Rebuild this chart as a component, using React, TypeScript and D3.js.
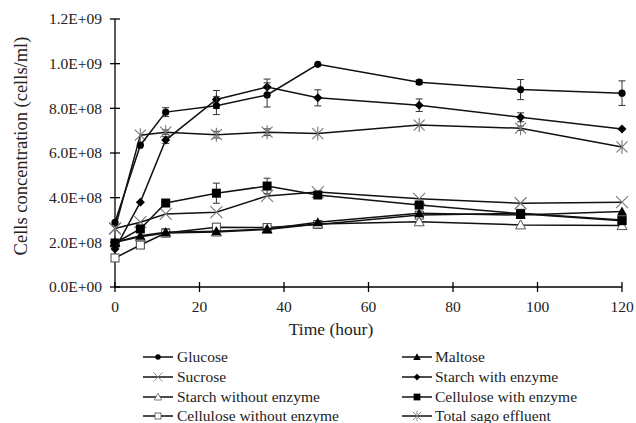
import React from "react";
import * as d3 from "d3";

const times = [0, 6, 12, 24, 36, 48, 72, 96, 120];
const glucose = [2.9e8, 6.35e8, 7.83e8, 8.12e8, 8.6e8, 9.97e8, 9.17e8, 8.84e8, 8.68e8];
const glucoseErr = [0, 0, 0.2e8, 0.4e8, 0.54e8, 0, 0.1e8, 0.45e8, 0.55e8];
const maltose = [2.0e8, 2.3e8, 2.45e8, 2.5e8, 2.6e8, 2.9e8, 3.3e8, 3.22e8, 3.38e8];
const maltoseErr = [0, 0, 0.15e8, 0, 0, 0, 0, 0, 0];
const sucrose = [2.62e8, 2.9e8, 3.27e8, 3.35e8, 4.08e8, 4.25e8, 3.95e8, 3.75e8, 3.8e8];
const sucroseErr = [0, 0, 0, 0, 0, 0, 0, 0, 0];
const starchEnzyme = [1.7e8, 3.8e8, 6.58e8, 8.4e8, 8.95e8, 8.47e8, 8.14e8, 7.6e8, 7.07e8];
const starchEnzymeErr = [0, 0, 0.15e8, 0.4e8, 0.36e8, 0.36e8, 0.28e8, 0.2e8, 0];
const starchNoEnzyme = [2.0e8, 2.25e8, 2.42e8, 2.46e8, 2.58e8, 2.82e8, 2.92e8, 2.78e8, 2.75e8];
const starchNoEnzymeErr = [0, 0, 0, 0, 0, 0, 0, 0, 0];
const celluloseEnzyme = [1.97e8, 2.6e8, 3.76e8, 4.2e8, 4.52e8, 4.12e8, 3.67e8, 3.28e8, 2.97e8];
const celluloseEnzymeErr = [0, 0, 0, 0.45e8, 0.35e8, 0, 0, 0, 0];
const celluloseNoEnzyme = [1.3e8, 1.88e8, 2.42e8, 2.68e8, 2.66e8, 2.8e8, 3.22e8, 3.3e8, 3.0e8];
const celluloseNoEnzymeErr = [0, 0, 0, 0, 0, 0, 0, 0, 0];
const sago = [2.62e8, 6.8e8, 6.93e8, 6.82e8, 6.93e8, 6.87e8, 7.25e8, 7.11e8, 6.27e8];
const sagoErr = [0, 0, 0.1e8, 0.15e8, 0.15e8, 0, 0, 0.1e8, 0];

const seriesNames = [
  "Glucose",
  "Maltose",
  "Sucrose",
  "Starch with enzyme",
  "Starch without enzyme",
  "Cellulose with enzyme",
  "Cellulose without enzyme",
  "Total sago effluent",
];
const seriesMarkers = ["circle", "triUp", "x", "diamond", "triOpen", "square", "squareOpen", "star"];

const xTicks = [0, 20, 40, 60, 80, 100, 120];
const yTicks = [0, 2e8, 4e8, 6e8, 8e8, 1.0e9, 1.2e9];
const yTickLabels = ["0.0E+00", "2.0E+08", "4.0E+08", "6.0E+08", "8.0E+08", "1.0E+09", "1.2E+09"];

const FONT = "'Liberation Serif', 'Times New Roman', serif";

function Marker({ type, x, y }: { type: string; x: number; y: number }) {
  switch (type) {
    case "circle":
      return <circle cx={x} cy={y} r={3.6} fill="#000" />;
    case "triUp":
      return <path d={`M${x},${y - 5}L${x + 5},${y + 4}L${x - 5},${y + 4}Z`} fill="#000" />;
    case "triOpen":
      return (
        <path d={`M${x},${y - 5}L${x + 5},${y + 4}L${x - 5},${y + 4}Z`} fill="#fff" stroke="#555" strokeWidth={1} />
      );
    case "x":
      return (
        <path d={`M${x - 6},${y - 6}L${x + 6},${y + 6}M${x - 6},${y + 6}L${x + 6},${y - 6}`} stroke="#777" strokeWidth={1.1} fill="none" />
      );
    case "diamond":
      return <path d={`M${x},${y - 4.5}L${x + 4.5},${y}L${x},${y + 4.5}L${x - 4.5},${y}Z`} fill="#000" />;
    case "square":
      return <rect x={x - 4.5} y={y - 4.5} width={9} height={9} fill="#000" />;
    case "squareOpen":
      return <rect x={x - 4} y={y - 4} width={8} height={8} fill="#fff" stroke="#444" strokeWidth={1} />;
    case "star":
      return (
        <path
          d={`M${x - 5.5},${y - 5.5}L${x + 5.5},${y + 5.5}M${x - 5.5},${y + 5.5}L${x + 5.5},${y - 5.5}M${x},${y - 7}L${x},${y + 7}`}
          stroke="#777"
          strokeWidth={1.1}
          fill="none"
        />
      );
    default:
      return null;
  }
}

export default function App() {
  const W = 636;
  const H = 423;
  const x = d3.scaleLinear().domain([0, 120]).range([115, 622]);
  const y = d3.scaleLinear().domain([0, 1.2e9]).range([287, 19]);

  const allValues = [glucose, maltose, sucrose, starchEnzyme, starchNoEnzyme, celluloseEnzyme, celluloseNoEnzyme, sago];
  const allErrs = [glucoseErr, maltoseErr, sucroseErr, starchEnzymeErr, starchNoEnzymeErr, celluloseEnzymeErr, celluloseNoEnzymeErr, sagoErr];

  const line = d3
    .line<number>()
    .x((_, i) => x(times[i]))
    .y((d) => y(d));

  const order = [6, 4, 1, 2, 5, 7, 3, 0];

  const legendRows = [357, 377, 397, 416];
  const legendCols = [
    { lx1: 143, lx2: 173, tx: 177 },
    { lx1: 402, lx2: 432, tx: 435 },
  ];

  return (
    <svg width={W} height={H} style={{ position: "absolute", left: 0, top: 0, background: "#fff" }}>
      <rect width={W} height={H} fill="#fff" />
      <line x1={x(0)} x2={x(0)} y1={y(1.2e9)} y2={y(0)} stroke="#000" strokeWidth={1.3} />
      <line x1={x(0)} x2={x(120)} y1={y(0)} y2={y(0)} stroke="#000" strokeWidth={1.3} />
      {yTicks.map((t, i) => (
        <g key={"yt" + i}>
          <line x1={x(0) - 5} x2={x(0) + 5} y1={y(t)} y2={y(t)} stroke="#000" strokeWidth={1.3} />
          <text x={102} y={y(t)} dy="0.35em" textAnchor="end" fontFamily={FONT} fontSize={15.5} fill="#222">
            {yTickLabels[i]}
          </text>
        </g>
      ))}
      {xTicks.map((t, i) => (
        <g key={"xt" + i}>
          <line x1={x(t)} x2={x(t)} y1={y(0) - 5} y2={y(0) + 5} stroke="#000" strokeWidth={1.3} />
          <text x={x(t)} y={312} textAnchor="middle" fontFamily={FONT} fontSize={15.5} fill="#222">
            {t}
          </text>
        </g>
      ))}
      <text x={331} y={335} textAnchor="middle" fontFamily={FONT} fontSize={17.5} fill="#222">
        Time (hour)
      </text>
      <text
        transform={`translate(21,146) rotate(-90)`}
        textAnchor="middle"
        dy="0.35em"
        fontFamily={FONT}
        fontSize={18.5}
        fill="#222"
      >
        Cells concentration (cells/ml)
      </text>

      {order.map((si) => {
        const vals = allValues[si];
        const errs = allErrs[si];
        return (
          <g key={"s" + si}>
            <path d={line(vals) || ""} fill="none" stroke="#111" strokeWidth={1.5} />
            {vals.map((v, i) =>
              errs[i] > 0 ? (
                <g key={"e" + i} stroke="#333" strokeWidth={1}>
                  <line x1={x(times[i])} x2={x(times[i])} y1={y(v - errs[i])} y2={y(v + errs[i])} />
                  <line x1={x(times[i]) - 3.5} x2={x(times[i]) + 3.5} y1={y(v - errs[i])} y2={y(v - errs[i])} />
                  <line x1={x(times[i]) - 3.5} x2={x(times[i]) + 3.5} y1={y(v + errs[i])} y2={y(v + errs[i])} />
                </g>
              ) : null
            )}
            {vals.map((v, i) => (
              <Marker key={"m" + i} type={seriesMarkers[si]} x={x(times[i])} y={y(v)} />
            ))}
          </g>
        );
      })}

      {seriesNames.map((name, i) => {
        const col = legendCols[i % 2];
        const ry = legendRows[Math.floor(i / 2)];
        const mx = (col.lx1 + col.lx2) / 2;
        return (
          <g key={"lg" + i}>
            <line x1={col.lx1} x2={col.lx2} y1={ry} y2={ry} stroke="#111" strokeWidth={1.5} />
            <g transform={`translate(${mx},${ry}) scale(0.75) translate(${-mx},${-ry})`}>
              <Marker type={seriesMarkers[i]} x={mx} y={ry} />
            </g>
            <text x={col.tx} y={ry} dy="0.33em" fontFamily={FONT} fontSize={15.5} fill="#222">
              {name}
            </text>
          </g>
        );
      })}
    </svg>
  );
}
